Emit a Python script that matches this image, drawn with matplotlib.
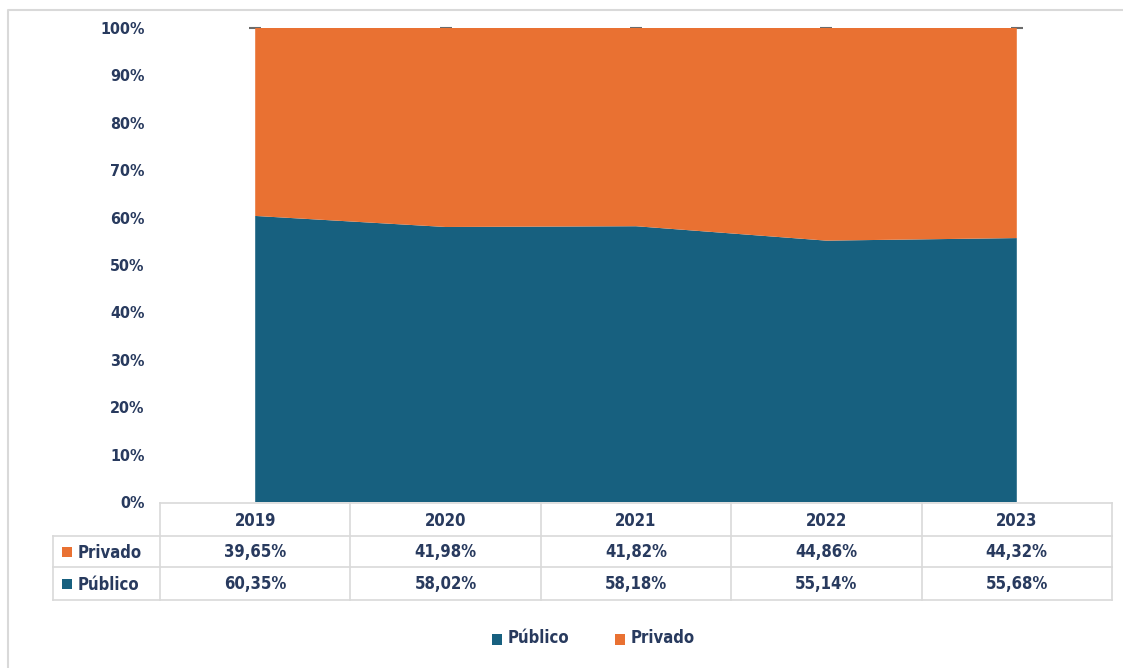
import numpy as np
import matplotlib
matplotlib.use("Agg")
from matplotlib import pyplot as plt
from matplotlib import font_manager
from matplotlib.patches import Rectangle
from matplotlib.ticker import PercentFormatter

# data
years = ["2019", "2020", "2021", "2022", "2023"]
publico = [60.35, 58.02, 58.18, 55.14, 55.68]
privado = [39.65, 41.98, 41.82, 44.86, 44.32]
series_names = ["Privado", "Público"]
yticks = [0, 10, 20, 30, 40, 50, 60, 70, 80, 90, 100]

c_pub = "#17607F"
c_priv = "#E97132"
c_txt = "#283A5E"
c_grid = "#D9D9D9"

# narrow font if one is around, otherwise condensed DejaVu
names = {f.name for f in font_manager.fontManager.ttflist}
if "Liberation Sans Narrow" in names:
    font = ["Liberation Sans Narrow", "DejaVu Sans"]
    stretch = "normal"
else:
    font = ["DejaVu Sans"]
    stretch = "condensed"
fs = 12

W, H = 1123, 668
fig = plt.figure(figsize=(W / 100, H / 100), dpi=100)

# overlay in pixel coordinates for border, table and legend
ov = fig.add_axes([0, 0, 1, 1])
ov.set_xlim(0, W)
ov.set_ylim(H, 0)
ov.axis("off")

# main plot area: x from 160 to 1112 px, y from 28 to 502 px
x0, x1, ytop, ybot = 160, 1112, 28, 502
ax = fig.add_axes([x0 / W, 1 - ybot / H, (x1 - x0) / W, (ybot - ytop) / H])
x = np.arange(len(years))
ax.stackplot(x, publico, privado, colors=[c_pub, c_priv], linewidth=0)
# little dashes at the top of each category
tops = np.array(publico) + np.array(privado)
ax.plot(x, tops, ls="none", marker="_", ms=9, mew=1.5, color="#6B6B6B",
        clip_on=False, zorder=0)
ax.set_xlim(-0.5, len(years) - 0.5)
ax.set_ylim(0, 100)
ax.set_yticks(yticks)
ax.yaxis.set_major_formatter(PercentFormatter(decimals=0))
ax.set_xticks([])
for s in ax.spines.values():
    s.set_visible(False)
ax.tick_params(axis="y", length=0, pad=11)
for lbl in ax.get_yticklabels():
    lbl.set_fontfamily(font)
    lbl.set_fontstretch(stretch)
    lbl.set_fontweight("bold")
    lbl.set_fontsize(fs - 0.5)
    lbl.set_color(c_txt)

# chart border
ov.plot([8, 8, W + 5], [H + 5, 10, 10], color="#D9D9D9", lw=1.5, clip_on=False)

# data table
colw = (x1 - x0) / len(years)
rows = [ybot + 1, 536, 567, 600]
lab_x = 53
ov.plot([x0, x1], [rows[0], rows[0]], color=c_grid, lw=1.2)
for r in rows[1:]:
    ov.plot([lab_x, x1], [r, r], color=c_grid, lw=1.2)
ov.plot([lab_x, lab_x], [rows[1], rows[3]], color=c_grid, lw=1.2)
for i in range(len(years) + 1):
    xx = x0 + i * colw
    ov.plot([xx, xx], [rows[0], rows[3]], color=c_grid, lw=1.2)

txt_kw = dict(fontfamily=font, fontstretch=stretch, fontweight="bold",
              fontsize=fs, color=c_txt, ha="center", va="center")
table_vals = [privado, publico]
row_colors = [c_priv, c_pub]
for i, yr in enumerate(years):
    cx = x0 + (i + 0.5) * colw
    ov.text(cx, (rows[0] + rows[1]) / 2 + 1, yr, **txt_kw)
    for j, vals in enumerate(table_vals):
        s = f"{vals[i]:.2f}%".replace(".", ",")
        ov.text(cx, (rows[j + 1] + rows[j + 2]) / 2 + 1, s, **txt_kw)
lab_kw = dict(txt_kw, ha="left")
for j, name in enumerate(series_names):
    cy = (rows[j + 1] + rows[j + 2]) / 2
    ov.add_patch(Rectangle((62, cy - 5), 10, 10, color=row_colors[j], lw=0))
    ov.text(78, cy + 1, name, **lab_kw)

# legend
leg_items = [("Público", c_pub, 492), ("Privado", c_priv, 615)]
for name, col, lx in leg_items:
    ov.add_patch(Rectangle((lx, 634), 10, 11, color=col, lw=0))
    ov.text(lx + 16, 638, name, **lab_kw)

fig.savefig("out.png", dpi=100)
